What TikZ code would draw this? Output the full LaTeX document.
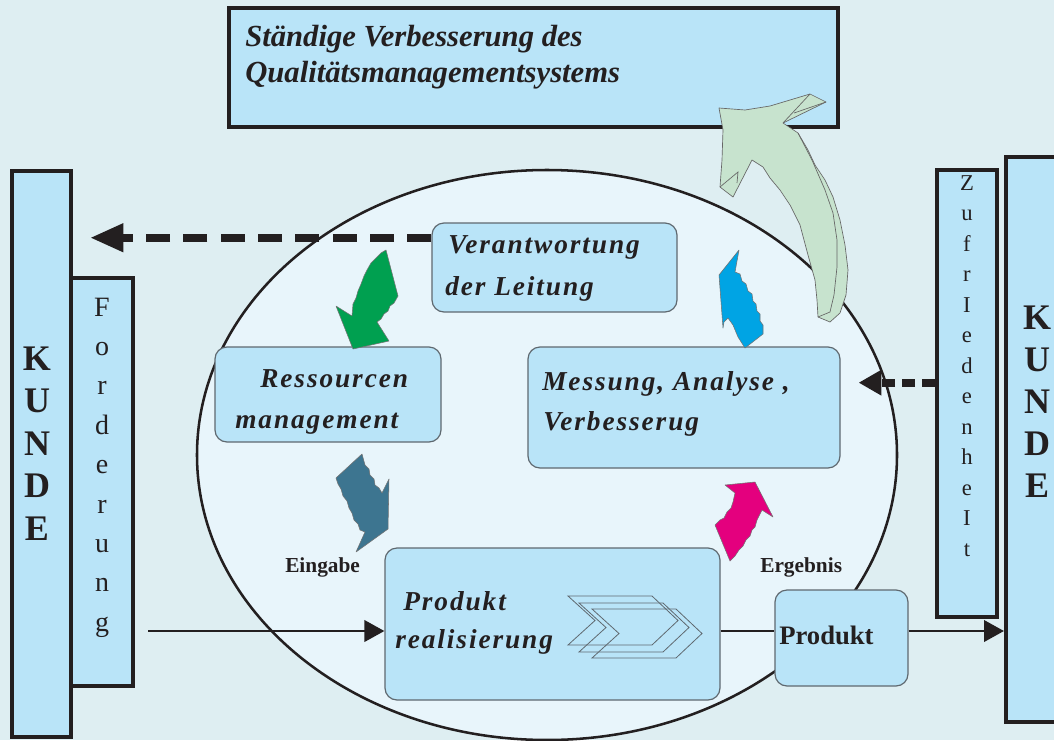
\documentclass[tikz,border=0pt]{standalone}
\usepackage{fontspec}
\setmainfont{Liberation Serif}
\newfontfamily\spacedfont{Liberation Serif}[LetterSpace=7]
\usetikzlibrary{arrows.meta,fit,calc}

\definecolor{bgcol}{RGB}{222,238,242}
\definecolor{ellcol}{RGB}{232,245,251}
\definecolor{boxcol}{RGB}{185,228,248}
\definecolor{inkcol}{RGB}{35,31,32}
\definecolor{rimcol}{RGB}{95,105,112}
\definecolor{greenarr}{RGB}{0,160,80}
\definecolor{bluearr}{RGB}{0,164,228}
\definecolor{tealarr}{RGB}{61,117,144}
\definecolor{magarr}{RGB}{228,0,126}
\definecolor{palegreen}{RGB}{199,227,206}

\begin{document}
\begin{tikzpicture}[x=0.75pt,y=-0.75pt,
  frame/.style={draw=inkcol, line width=3pt, fill=boxcol, inner sep=0pt},
  softbox/.style={draw=rimcol, line width=0.9pt, fill=boxcol, rounded corners=9pt, inner sep=0pt},
  boxtext/.style={anchor=base west, inner sep=0pt, text=inkcol,
    font=\spacedfont\bfseries\itshape\fontsize{20.5pt}{24pt}\selectfont},
  titletext/.style={anchor=base west, inner sep=0pt, text=inkcol,
    font=\bfseries\itshape\fontsize{23pt}{27pt}\selectfont},
  tag/.style={anchor=base west, inner sep=0pt, text=inkcol,
    font=\bfseries\fontsize{16pt}{19pt}\selectfont},
  bigletter/.style={anchor=base, inner sep=0pt, text=inkcol,
    font=\bfseries\fontsize{27pt}{32pt}\selectfont},
  midletter/.style={anchor=base, inner sep=0pt, text=inkcol,
    font=\fontsize{21pt}{25pt}\selectfont},
  smallletter/.style={anchor=base, inner sep=0pt, text=inkcol,
    font=\fontsize{17pt}{20pt}\selectfont},
  flow/.style={draw=inkcol, line width=2.1pt},
  flowtip/.style={flow, -{Triangle[length=15pt,width=16pt]}},
  feedback/.style={draw=inkcol, line width=6pt, dash pattern=on 18pt off 10pt,
    -{Triangle[length=25pt,width=20pt]}},
  rating/.style={draw=inkcol, line width=6pt, dash pattern=on 10pt off 5pt,
    -{Triangle[length=17pt,width=18pt]}},
  blockarrow/.style={draw=black!55, line width=0.4pt, line join=round},
  chevron/.style={draw=rimcol, line width=0.6pt}
]
\useasboundingbox (0,0) rectangle (1054,740);
\fill[bgcol] (0,0) rectangle (1054,740);

% process area
\draw[fill=ellcol, draw=inkcol, line width=1.9pt]
  (547,455) ellipse [x radius=262.5pt, y radius=213.75pt];

% improvement goal
\node[frame, fit={(229,8) (838,127)}] (goal) {};

% customers and their requirements / satisfaction
\node[frame, fit={(12,171) (71,737)}] (kundeL) {};
\node[frame, fit={(71,278) (133,686)}] (ford) {};
\node[frame, fit={(1006,157) (1070,722)}] (kundeR) {};
\node[frame, fit={(937,170) (997,617)}] (zuf) {};

% process boxes
\node[softbox, fit={(432,223) (677,312)}] (verant) {};
\node[softbox, fit={(215,347) (441,442)}] (ress) {};
\node[softbox, fit={(528,347) (840,468)}] (mess) {};
\node[softbox, fit={(385,548) (720,700)}] (real) {};
\node[softbox, fit={(775,590) (908,686)}] (prod) {};

% chevrons inside the realisation box
\foreach \dx/\dy in {0/0, 11/7, 24/13}{
  \draw[chevron, shift={(\dx*0.75pt,-\dy*0.75pt)}]
    (568,596) -- (652,596) -- (678,620.5) -- (652,645) -- (568,645) -- (595,620.5) -- cycle;
}

% feedback from management to the customer
\coordinate (vout) at ($(verant.north west)!0.17!(verant.south west)$);
\draw[feedback, shorten >=12.75pt] (vout) -- (vout -| kundeL.east);

% satisfaction into measurement
\coordinate (zin) at ($(zuf.north west)!0.476!(zuf.south west)$);
\draw[rating, shorten >=13.5pt] (zin) -- (zin -| mess.east);

% product flow
\coordinate (req) at (148,631);
\draw[flowtip] (req) -- (req -| real.west);
\draw[flow] (req -| real.east) -- (req -| prod.west);
\draw[flowtip] (req -| prod.east) -- (req -| kundeR.west);

% cycle arrows
\filldraw[greenarr, blockarrow] (386,250) -- (398,296) -- (394,303) -- (390,306) -- (388,311)
  -- (384,314) -- (381,319) -- (377,322) -- (389,341) -- (353,349) -- (336,306) -- (352,316)
  -- (353,304) -- (356,298) -- (358,291) -- (361,284) -- (364,276) -- (367,270)
  -- (371,263) -- (376,258) -- (381,253) -- cycle;
\filldraw[tealarr, blockarrow] (336,478) -- (362,454) -- (365,465) -- (369,469) -- (370,475)
  -- (374,479) -- (375,485) -- (379,488) -- (382,493) -- (389,479) -- (388,529) -- (356,552)
  -- (365,532) -- (360,530) -- (358,524) -- (354,520) -- (352,513) -- (349,508) -- (347,501)
  -- (343,496) -- (341,489) -- (338,484) -- cycle;
\filldraw[magarr, blockarrow] (725,485) -- (755,482) -- (773,517) -- (762,510) -- (759,516)
  -- (757,520) -- (755,527) -- (752,530) -- (750,536) -- (746,540) -- (743,546) -- (739,550)
  -- (735,556) -- (730,561) -- (715,525) -- (720,520) -- (724,518) -- (727,512) -- (731,508)
  -- (733,502) -- (735,493) -- cycle;
\filldraw[bluearr, blockarrow] (739,250) -- (735,272) -- (740,274) -- (742,281) -- (746,284)
  -- (748,291) -- (752,294) -- (753,301) -- (756,304) -- (757,311) -- (760,314) -- (760,321)
  -- (763,325) -- (763,334) -- (745,348) -- (738,337) -- (733,325) -- (728,318) -- (724,322)
  -- (723,328) -- (719,275) -- cycle;

% continual improvement arrow
\filldraw[fill=palegreen, draw=black!60, line width=0.5pt, line join=round]
  (719,108) -- (745,110) -- (770,106) -- (790,100) -- (810,94) -- (826,102) -- (783,123)
  -- (798,133) -- (808,150) -- (815,165) -- (825,180) -- (833,197) -- (840,220) -- (845,245)
  -- (848,270) -- (846,295) -- (840,313) -- (830,322) -- (818,317) -- (817,300) -- (815,280)
  -- (808,255) -- (800,225) -- (790,205) -- (780,190) -- (770,178) -- (763,167) -- (752,160)
  -- (733,197) -- (720,187) -- (722,160) -- (723,130) -- cycle;
\draw[draw=black!60, line width=0.5pt] (794,113) -- (826,102);
\draw[draw=black!60, line width=0.5pt] (783,123) -- (810,94);
\draw[draw=black!60, line width=0.5pt] (798,133) -- (812,160) -- (825,190) -- (833,213)
  -- (837,240) -- (837,267) -- (834,295) -- (830,312) -- (818,317);
\draw[draw=black!60, line width=0.5pt] (720,187) -- (738,172) -- (737,183);

% texts
\node[titletext] (goal1) at (245,46) {Ständige Verbesserung des};
\node[titletext] (goal2) at (245,82) {Qualitätsmanagementsystems};
\node[boxtext] (verant1) at (448,253) {Verantwortung};
\node[boxtext] (verant2) at (445,295) {der Leitung};
\node[boxtext] (ress1) at (260,387) {Ressourcen};
\node[boxtext] (ress2) at (235,428) {management};
\node[boxtext] (mess1) at (542,390) {Messung, Analyse ,};
\node[boxtext] (mess2) at (543,430) {Verbesserug};
\node[boxtext] (real1) at (403,610) {Produkt};
\node[boxtext] (real2) at (395,648) {realisierung};
\node[anchor=base west, inner sep=0pt, text=inkcol, font=\bfseries\fontsize{20pt}{24pt}\selectfont]
  (prod1) at (779,644) {Produkt};
\node[tag] (eingabe) at (285,572) {Eingabe};
\node[tag] (ergebnis) at (760,572) {Ergebnis};

\foreach \ch [count=\i] in {K,U,N,D,E}
  \node[bigletter] (kl\i) at (37,{370+42.5*(\i-1)}) {\ch};
\foreach \ch [count=\i] in {K,U,N,D,E}
  \node[bigletter] (kr\i) at (1037,{329+42*(\i-1)}) {\ch};
\foreach \ch [count=\i] in {F,o,r,d,e,r,u,n,g}
  \node[midletter] (fo\i) at (102,{316+39.4*(\i-1)}) {\ch};
\foreach \ch [count=\i] in {Z,u,f,r,I,e,d,e,n,h,e,I,t}
  \node[smallletter] (zu\i) at (967,{190+30.5*(\i-1)}) {\ch};
\end{tikzpicture}
\end{document}
